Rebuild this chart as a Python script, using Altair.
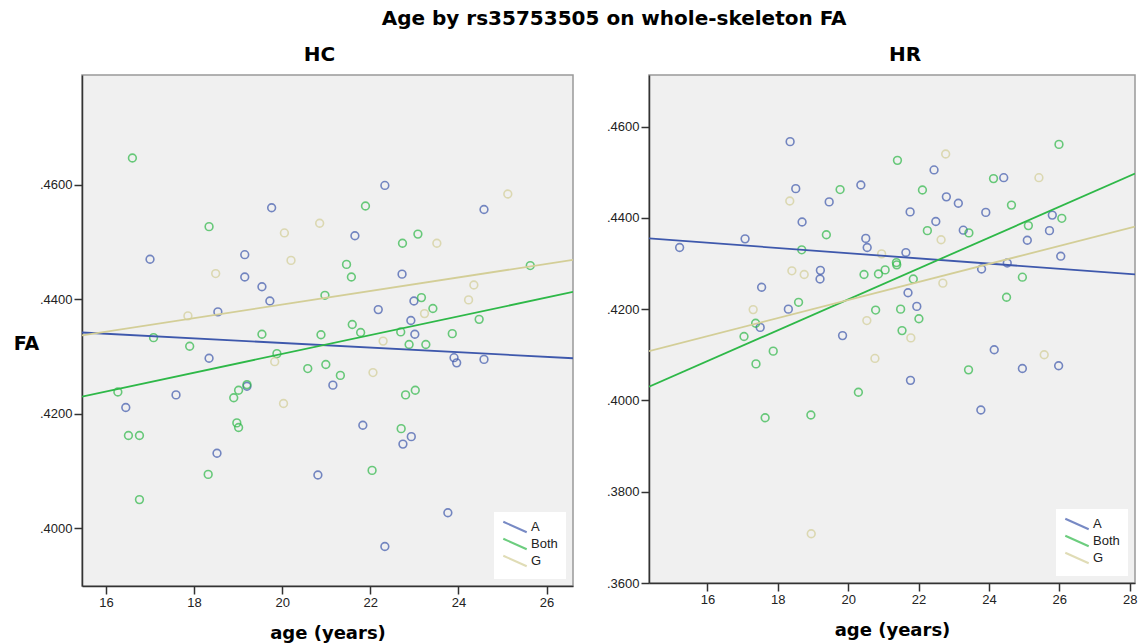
import altair as alt
import pandas as pd

groups = ["A", "Both", "G"]
colors = ["#3E58AC", "#2EB848", "#D3CE97"]

# ---- HC panel points ----
hc_a_age = [17.0, 16.45, 17.59, 18.34, 18.52, 18.54, 19.15, 19.15, 19.54, 19.72, 19.76, 19.2,
            22.33, 21.65, 22.72, 22.18, 22.99, 22.92, 23.01, 21.15, 21.83, 24.58, 23.9, 23.96,
            24.58, 20.81, 22.74, 22.93, 23.76, 22.33]
hc_a_fa = [0.4470, 0.4211, 0.4233, 0.4297, 0.4131, 0.4378, 0.4478, 0.4439, 0.4422, 0.4397, 0.4560, 0.4248,
           0.4599, 0.4511, 0.4444, 0.4382, 0.4397, 0.4363, 0.4339, 0.4250, 0.4180, 0.4557, 0.4298, 0.4289,
           0.4295, 0.4093, 0.4147, 0.4160, 0.4027, 0.3968]

hc_both_age = [16.6, 18.34, 20.97, 17.08, 17.9, 19.54, 20.88, 19.88, 20.58, 20.99, 16.27, 19.2,
               19.01, 18.9, 18.97, 19.01, 16.51, 16.76, 16.76, 18.32, 21.89, 23.08, 22.73, 21.46,
               21.57, 25.63, 23.16, 23.42, 21.59, 21.78, 22.69, 24.47, 23.86, 22.88, 23.26, 21.32,
               22.8, 23.02, 22.7, 22.04]
hc_both_fa = [0.4647, 0.4527, 0.4407, 0.4333, 0.4318, 0.4339, 0.4338, 0.4305, 0.4279, 0.4286, 0.4238, 0.4251,
              0.4241, 0.4228, 0.4184, 0.4176, 0.4162, 0.4162, 0.4050, 0.4094, 0.4563, 0.4514, 0.4498, 0.4461,
              0.4439, 0.4459, 0.4403, 0.4384, 0.4356, 0.4342, 0.4343, 0.4365, 0.4340, 0.4321, 0.4321, 0.4267,
              0.4233, 0.4241, 0.4174, 0.4101]

hc_g_age = [20.85, 20.05, 20.2, 18.49, 17.86, 19.83, 20.03, 25.12, 23.51, 24.35, 24.23, 23.23, 22.29, 22.06]
hc_g_fa = [0.4533, 0.4516, 0.4468, 0.4445, 0.4371, 0.4291, 0.4218, 0.4584, 0.4498, 0.4425, 0.4399, 0.4375,
           0.4327, 0.4272]

# ---- HR panel points ----
hr_a_age = [15.21, 17.07, 18.35, 18.51, 19.46, 18.69, 17.54, 19.21, 19.2, 18.3, 17.5, 19.84, 20.36,
            21.76, 20.5, 20.54, 21.64, 21.7, 21.95, 21.77, 22.44, 24.42, 22.79, 23.13, 23.91, 22.49,
            23.27, 25.8, 25.72, 25.09, 26.04, 23.79, 24.52, 24.15, 24.95, 25.98, 23.77]
hr_a_fa = [0.4335, 0.4354, 0.4567, 0.4464, 0.4435, 0.4391, 0.4248, 0.4285, 0.4266, 0.4200, 0.4160, 0.4142,
           0.4472, 0.4413, 0.4355, 0.4335, 0.4324, 0.4236, 0.4206, 0.4044, 0.4505, 0.4488, 0.4446, 0.4432,
           0.4412, 0.4392, 0.4373, 0.4406, 0.4372, 0.4351, 0.4316, 0.4288, 0.4301, 0.4111, 0.4070, 0.4076,
           0.3979]

hr_both_age = [21.4, 19.77, 22.11, 19.38, 18.68, 21.37, 21.38, 21.05, 20.86, 20.45, 21.85, 18.59,
               20.78, 21.49, 22.01, 17.37, 17.04, 21.53, 17.87, 17.38, 20.29, 17.64, 18.94, 25.99,
               24.13, 24.64, 26.07, 25.12, 22.25, 23.43, 24.95, 24.5, 23.42]
hr_both_fa = [0.4526, 0.4462, 0.4461, 0.4363, 0.4330, 0.4302, 0.4297, 0.4286, 0.4277, 0.4276, 0.4266, 0.4215,
              0.4198, 0.4200, 0.4179, 0.4169, 0.4140, 0.4153, 0.4108, 0.4080, 0.4018, 0.3962, 0.3968, 0.4561,
              0.4486, 0.4428, 0.4399, 0.4383, 0.4372, 0.4367, 0.4270, 0.4226, 0.4067]

hr_g_age = [18.34, 20.95, 18.4, 18.75, 17.3, 20.53, 21.78, 20.76, 22.77, 25.42, 22.64, 22.69, 25.57, 18.95]
hr_g_fa = [0.4437, 0.4321, 0.4284, 0.4276, 0.4199, 0.4175, 0.4137, 0.4092, 0.4540, 0.4488, 0.4352, 0.4257,
           0.4100, 0.3708]

# ---- fit lines (end points) ----
hc_line_age = [15.456, 26.6]
hc_line_a = [0.4342, 0.4297]
hc_line_both = [0.4230, 0.4413]
hc_line_g = [0.4337, 0.4469]

hr_line_age = [14.34, 28.15]
hr_line_a = [0.4355, 0.4276]
hr_line_both = [0.4030, 0.4497]
hr_line_g = [0.4108, 0.4381]

# ---- axes ----
hc_x_domain = [15.456, 26.6]
hc_y_domain = [0.3899, 0.4792]
hc_x_ticks = [16, 18, 20, 22, 24, 26]
hc_y_ticks = [0.40, 0.42, 0.44, 0.46]

hr_x_domain = [14.34, 28.15]
hr_y_domain = [0.36, 0.4713]
hr_x_ticks = [16, 18, 20, 22, 24, 26, 28]
hr_y_ticks = [0.36, 0.38, 0.40, 0.42, 0.44, 0.46]


def points_df(a_age, a_fa, b_age, b_fa, g_age, g_fa):
    rows = []
    for grp, ages, fas in (("A", a_age, a_fa), ("Both", b_age, b_fa), ("G", g_age, g_fa)):
        for x, y in zip(ages, fas):
            rows.append({"age": x, "fa": y, "allele": grp})
    return pd.DataFrame(rows)


def lines_df(ages, a, b, g):
    rows = []
    for grp, fas in (("A", a), ("Both", b), ("G", g)):
        for x, y in zip(ages, fas):
            rows.append({"age": x, "fa": y, "allele": grp})
    return pd.DataFrame(rows)


label_expr = "replace(format(datum.value, '.4f'), '0.', '.')"


def panel(pts, lns, name, xdom, xticks, ydom, yticks, show_ytitle, w, h, tdx):
    legend = alt.Legend(
        orient="bottom-right", title=None, fillColor="white", padding=8, offset=7,
        symbolType="M-1.95,-0.87L1.95,0.87", symbolSize=144, symbolStrokeWidth=2,
        symbolOffset=6,
        labelFont="Liberation Sans", labelFontSize=13, labelColor="#222222",
        labelOffset=9, rowPadding=-3,
    )
    color = alt.Color("allele:N", scale=alt.Scale(domain=groups, range=colors), legend=legend)
    x = alt.X("age:Q", scale=alt.Scale(domain=xdom, nice=False, zero=False),
              axis=alt.Axis(values=xticks, title="age (years)", titlePadding=15))
    if show_ytitle:
        yaxis = alt.Axis(values=yticks, labelExpr=label_expr, title="FA", titleAngle=0,
                         titleAlign="center", titleBaseline="middle", titleX=-56, titleY=268,
                         titleFontSize=19)
        y = alt.Y("fa:Q", scale=alt.Scale(domain=ydom, nice=False, zero=False), axis=yaxis)
    else:
        yaxis = alt.Axis(values=yticks, labelExpr=label_expr)
        y = alt.Y("fa:Q", scale=alt.Scale(domain=ydom, nice=False, zero=False), axis=yaxis, title=None)
    p = alt.Chart(pts).mark_point(shape="circle", filled=False, size=60, strokeWidth=1.6, clip=True).encode(
        x=x, y=y, color=color)
    l = alt.Chart(lns).mark_line(strokeWidth=1.8, clip=True).encode(
        x=x, y=y, color=color, detail="allele:N")
    return alt.layer(p, l).properties(
        width=w, height=h,
        title=alt.TitleParams(name, fontSize=20, font="DejaVu Sans", fontWeight="bold",
                              anchor="middle", dx=tdx, offset=10, color="black"),
    )


hc = panel(points_df(hc_a_age, hc_a_fa, hc_both_age, hc_both_fa, hc_g_age, hc_g_fa),
           lines_df(hc_line_age, hc_line_a, hc_line_both, hc_line_g),
           "HC", hc_x_domain, hc_x_ticks, hc_y_domain, hc_y_ticks, True, 491, 511, -8)
hr = panel(points_df(hr_a_age, hr_a_fa, hr_both_age, hr_both_fa, hr_g_age, hr_g_fa),
           lines_df(hr_line_age, hr_line_a, hr_line_both, hr_line_g),
           "HR", hr_x_domain, hr_x_ticks, hr_y_domain, hr_y_ticks, False, 486, 508, 13)

chart = alt.hconcat(hc, hr, spacing=31).resolve_scale(color="independent").properties(
    title=alt.TitleParams("Age by rs35753505 on whole-skeleton FA", fontSize=20, font="DejaVu Sans",
                          fontWeight="bold", anchor="middle", color="black", offset=15, dx=39),
    padding={"left": 12, "top": 9, "right": 0, "bottom": 0},
).configure_view(
    fill="#f0f0f0", stroke="#999999", strokeWidth=1.5
).configure_axis(
    grid=False, labelFont="Liberation Sans", labelFontSize=13, labelColor="#222222",
    tickSize=8, tickColor="#333333", tickWidth=1.5, labelPadding=2,
    domainColor="#333333", domainWidth=1.5,
    titleFont="DejaVu Sans", titleFontWeight="bold", titleFontSize=18, titleColor="black",
)

chart.save("out.html", embed_options={"renderer": "svg", "actions": False})
